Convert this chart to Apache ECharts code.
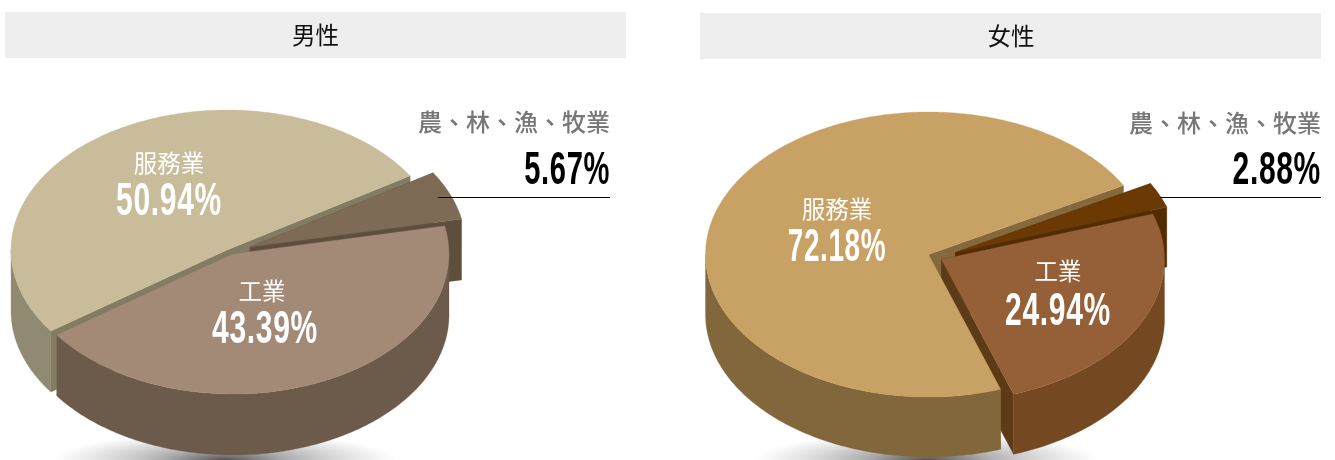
<!DOCTYPE html>
<html><head><meta charset="utf-8">
<style>html,body{margin:0;padding:0;background:#fff}#c{width:1335px;height:460px}</style>
<script src="https://cdn.jsdelivr.net/npm/echarts@6/dist/echarts.min.js"></script>
</head><body><div id="c"></div>
<script>
const categories = ['服務業', '工業', '農、林、漁、牧業'];
const maleShare = [50.94, 43.39, 5.67];
const femaleShare = [72.18, 24.94, 2.88];
const panelTitles = ['男性', '女性'];

const CJK = '"Noto Sans CJK TC","Noto Sans CJK SC",sans-serif';
const NUM = '"Liberation Sans",Arial,sans-serif';
// paint order of each slice's parts: first cut face, second cut face, outer wall, top face
const PAINT = [[1, 10, 11, 12], [5, 5, 31, 32], [3, 3, 21, 22]];

const PIES = [
  { center: [227, 250], rx: 216, ry: 140, depth: 61, startDeg: 32,
    offsets: [[0, 0], [6, 4], [23, -3]],
    top: ['#c9bc9a', '#a38a76', '#7d6b55'],
    outer: ['#918a73', '#6c5a4b', '#5e4f3c'],
    cut: ['#837b62', '#6c5a4b', '#5e4f3c'],
    nameAt: [[169, 163], [262, 291]], pctAt: [[169, 202], [265, 330]], pctScale: [0.64, 0.64, 0.62],
    calloutRight: 610, calloutY: 122, calloutPctY: 171, lineFrom: 438, lineY: 197.5,
    shadow: [225, 460, 172] },
  { center: [928.5, 254.5], rx: 223, ry: 142.5, depth: 60, startDeg: 29,
    offsets: [[0, 0], [13, 5], [27, -2]],
    top: ['#c8a164', '#956037', '#6b3903'],
    outer: ['#81673b', '#744821', '#5a3000'],
    cut: ['#85693d', '#5e3b17', '#522c00'],
    nameAt: [[837, 209], [1058, 271]], pctAt: [[837, 248], [1058, 312]], pctScale: [0.595, 0.64, 0.64],
    calloutRight: 1321, calloutY: 123, calloutPctY: 171, lineFrom: 1160, lineY: 197.5,
    shadow: [927, 460, 172] }
];

function pieRenderer(pieIndex, shares) {
  const p = PIES[pieIndex];
  return function (params, api) {
    const i = api.value(1), v = api.value(0);
    let before = 0;
    for (let k = 0; k < i; k++) before += shares[k];
    const toDeg = x => echarts.number.linearMap(x, [0, 100], [p.startDeg, p.startDeg + 360]);
    const a0 = toDeg(before), a1 = toDeg(before + v);
    const ox = p.center[0] + p.offsets[i][0], oy = p.center[1] + p.offsets[i][1];
    const at = (deg, drop) => [ox + p.rx * Math.cos(deg * Math.PI / 180), oy - p.ry * Math.sin(deg * Math.PI / 180) + (drop || 0)];
    const apex = [ox, oy];
    const apexD = [ox, oy + p.depth];
    const order = PAINT[i];
    const kids = [];
    const poly = (pts, fill, zz) => kids.push({ type: 'polygon', z2: zz, shape: { points: pts }, style: { fill: fill, stroke: fill, lineWidth: 0.3 } });
    poly([apex, at(a0), at(a0, p.depth), apexD], p.cut[i], order[0]);
    poly([apex, at(a1), at(a1, p.depth), apexD], p.cut[i], order[1]);
    [[180, 360], [540, 720]].forEach(function (f) {
      const s = Math.max(a0, f[0]), e = Math.min(a1, f[1]);
      if (e > s) {
        const up = [], down = [];
        for (let d = s; d < e; d += 1) { up.push(at(d)); down.unshift(at(d, p.depth)); }
        up.push(at(e)); down.unshift(at(e, p.depth));
        poly(up.concat(down), p.outer[i], order[2]);
      }
    });
    const topPts = [apex];
    for (let d = a0; d < a1; d += 1) topPts.push(at(d));
    topPts.push(at(a1));
    poly(topPts, p.top[i], order[3]);
    if (i < 2) {
      kids.push({ type: 'text', z2: 100, x: p.nameAt[i][0], y: p.nameAt[i][1],
        style: { text: categories[i], fill: '#fff', fontSize: 23.5, fontFamily: CJK, align: 'center', verticalAlign: 'middle' } });
    } else {
      kids.push({ type: 'line', z2: 100, shape: { x1: p.lineFrom, y1: p.lineY, x2: p.calloutRight, y2: p.lineY }, style: { stroke: '#000', lineWidth: 1 } });
    }
    return { type: 'group', children: kids };
  };
}

function shadowEl(s) {
  return { type: 'circle', x: s[0], y: s[1], scaleY: 0.16, z: 0, silent: true,
    shape: { cx: 0, cy: 0, r: s[2] },
    style: { fill: new echarts.graphic.RadialGradient(0, 0, s[2], [
      { offset: 0, color: 'rgba(40,40,40,0.8)' },
      { offset: 0.35, color: 'rgba(70,70,70,0.45)' },
      { offset: 0.75, color: 'rgba(110,110,110,0.18)' },
      { offset: 1, color: 'rgba(140,140,140,0)' }], true) } };
}

const chart = echarts.init(document.getElementById('c'), null, { renderer: 'canvas', width: 1335, height: 460 });
// letter spacing for the percentages: they live on their own canvas layer
try { chart.getZr().painter.getLayer(6).ctx.letterSpacing = '1px'; } catch (e) {}

function calloutCaption(p) {
  return { type: 'text', zlevel: 5, z: 10, x: p.calloutRight, y: p.calloutY,
    style: { text: categories[2], fill: '#777777', fontSize: 24, fontWeight: 500, fontFamily: CJK, align: 'right', verticalAlign: 'middle' } };
}
function pctText(p, shares, i) {
  const outside = i === 2;
  return { type: 'text', zlevel: 6, z: 10,
    x: outside ? p.calloutRight : p.pctAt[i][0], y: outside ? p.calloutPctY : p.pctAt[i][1], scaleX: p.pctScale[i],
    style: { text: shares[i].toFixed(2) + '%', fill: outside ? '#000' : '#fff', fontSize: 47, fontWeight: 'bold', fontFamily: NUM,
      align: outside ? 'right' : 'center', verticalAlign: 'middle' } };
}

chart.setOption({
  animation: false,
  backgroundColor: '#fff',
  title: [
    { text: panelTitles[0], left: 310.5, top: 30, textAlign: 'center', textVerticalAlign: 'middle', z: 5,
      textStyle: { fontSize: 23.5, fontWeight: 400, color: '#111', fontFamily: CJK } },
    { text: panelTitles[1], left: 1006, top: 31, textAlign: 'center', textVerticalAlign: 'middle', z: 5,
      textStyle: { fontSize: 23.5, fontWeight: 400, color: '#111', fontFamily: CJK } }
  ],
  graphic: [
    { type: 'rect', z: -1, shape: { x: 5, y: 12, width: 621, height: 46 }, style: { fill: '#eeeeee' } },
    { type: 'rect', z: -1, shape: { x: 700, y: 13, width: 621, height: 46 }, style: { fill: '#eeeeee' } },
    shadowEl(PIES[0].shadow), shadowEl(PIES[1].shadow),
    calloutCaption(PIES[0]), calloutCaption(PIES[1]),
    pctText(PIES[0], maleShare, 0), pctText(PIES[0], maleShare, 1), pctText(PIES[0], maleShare, 2),
    pctText(PIES[1], femaleShare, 0), pctText(PIES[1], femaleShare, 1), pctText(PIES[1], femaleShare, 2)
  ],
  series: [
    { type: 'custom', coordinateSystem: 'none', silent: true, clip: false, z: 3,
      renderItem: pieRenderer(0, maleShare), data: maleShare.map((v, i) => [v, i]), encode: { value: 0 } },
    { type: 'custom', coordinateSystem: 'none', silent: true, clip: false, z: 3,
      renderItem: pieRenderer(1, femaleShare), data: femaleShare.map((v, i) => [v, i]), encode: { value: 0 } }
  ]
});
</script></body></html>
